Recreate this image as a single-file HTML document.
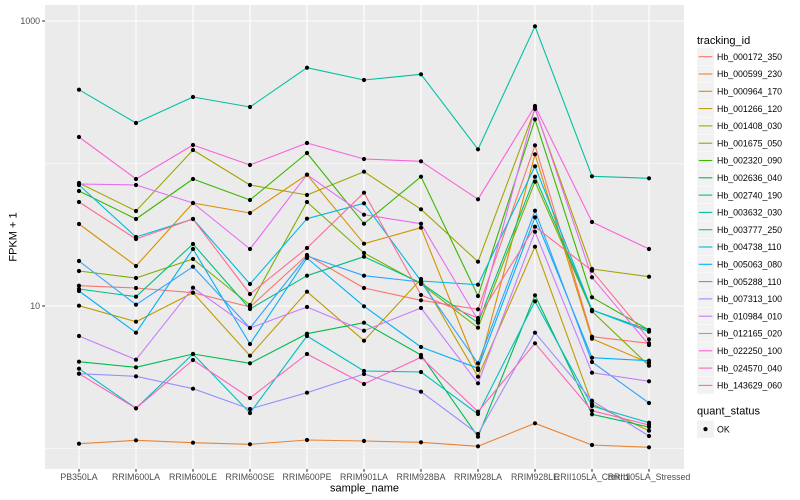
<!DOCTYPE html>
<html><head><meta charset="utf-8"><style>
html,body{margin:0;padding:0;background:#fff;}
svg{display:block;}
text{font-family:"Liberation Sans",Arial,sans-serif;}
</style></head><body>
<svg width="800" height="500" viewBox="0 0 800 500" xmlns="http://www.w3.org/2000/svg">
<defs>
<marker id="p" markerWidth="6" markerHeight="6" refX="3" refY="3" markerUnits="userSpaceOnUse"><circle cx="3" cy="3" r="2.1" fill="#000"/></marker>
<clipPath id="cp"><rect x="45" y="5" width="639" height="464"/></clipPath>
</defs>
<rect width="800" height="500" fill="#fff"/>
<rect x="45" y="5" width="639" height="464" fill="#EBEBEB"/>
<g stroke="#fff" stroke-width="0.55">
<line x1="45" x2="684" y1="163.5" y2="163.5"/>
<line x1="45" x2="684" y1="448.5" y2="448.5"/>
</g>
<g stroke="#fff" stroke-width="1.1">
<line x1="45" x2="684" y1="21" y2="21"/>
<line x1="45" x2="684" y1="306" y2="306"/>
<line x1="79" x2="79" y1="5" y2="469"/>
<line x1="136" x2="136" y1="5" y2="469"/>
<line x1="193" x2="193" y1="5" y2="469"/>
<line x1="250" x2="250" y1="5" y2="469"/>
<line x1="307" x2="307" y1="5" y2="469"/>
<line x1="364" x2="364" y1="5" y2="469"/>
<line x1="421" x2="421" y1="5" y2="469"/>
<line x1="478" x2="478" y1="5" y2="469"/>
<line x1="535" x2="535" y1="5" y2="469"/>
<line x1="592" x2="592" y1="5" y2="469"/>
<line x1="649" x2="649" y1="5" y2="469"/>
</g>
<g clip-path="url(#cp)" fill="none" stroke-width="1.1" stroke-linejoin="round">
<polyline stroke="#F8766D" points="79,285.7 136,288 193,292.7 250,307 307,255 364,288 421,300.3 478,309.3 535,145.3 592,336.7 649,343.3"/>
<polyline stroke="#EA8331" points="79,443.7 136,440.3 193,442.7 250,444.3 307,440 364,441 421,442.3 478,446.3 535,423.3 592,445 649,447.3"/>
<polyline stroke="#D89000" points="79,224 136,266 193,203 250,213 307,174.7 364,243.7 421,227.7 478,370 535,154.3 592,338.7 649,363"/>
<polyline stroke="#C09B00" points="79,305.7 136,321.7 193,292.7 250,355.7 307,291.7 364,340.7 421,279 478,376.7 535,246.7 592,404 649,430.7"/>
<polyline stroke="#A3A500" points="79,183 136,211 193,150 250,185 307,195 364,171.7 421,209.3 478,261.7 535,109 592,269 649,276.7"/>
<polyline stroke="#7CAE00" points="79,271 136,278 193,259 250,305 307,202 364,253 421,284 478,327.7 535,181.7 592,311.3 649,365.7"/>
<polyline stroke="#39B600" points="79,191 136,219 193,179 250,200 307,153 364,223.7 421,176.7 478,296 535,119.3 592,297.3 649,330"/>
<polyline stroke="#00BB4E" points="79,361.7 136,367.3 193,354 250,363.3 307,333.7 364,322.7 421,355 478,436.7 535,295.3 592,414.3 649,427"/>
<polyline stroke="#00BF7D" points="79,289 136,296.7 193,244 250,309 307,275.7 364,256.7 421,283 478,322.7 535,176.7 592,310 649,330"/>
<polyline stroke="#00C1A3" points="79,89.7 136,123 193,97 250,107 307,67.7 364,80 421,74.3 478,149.3 535,26.3 592,176.3 649,178.3"/>
<polyline stroke="#00BFC4" points="79,368.7 136,408.3 193,354 250,413 307,336 364,371 421,372 478,414 535,301.3 592,406 649,422.7"/>
<polyline stroke="#00BAE0" points="79,185 136,237 193,219 250,284 307,218.7 364,203.3 421,281 478,284.7 535,166.3 592,310 649,331.7"/>
<polyline stroke="#00B0F6" points="79,291 136,332.7 193,249 250,344 307,258 364,306.3 421,347 478,368.3 535,217.3 592,357.7 649,360.7"/>
<polyline stroke="#35A2FF" points="79,261 136,304.7 193,266.7 250,328 307,256 364,275.7 421,282 478,363.3 535,210.7 592,362 649,403"/>
<polyline stroke="#9590FF" points="79,373.7 136,376.3 193,388.7 250,409 307,392.7 364,374 421,391.7 478,434 535,332.7 592,400.7 649,436"/>
<polyline stroke="#C77CFF" points="79,336 136,359.7 193,287.7 250,328 307,307 364,330.7 421,308 478,383.3 535,231.7 592,372.7 649,381.3"/>
<polyline stroke="#E76BF3" points="79,184 136,185 193,203 250,249 307,174.7 364,214.7 421,223.7 478,320 535,108 592,277.3 649,345"/>
<polyline stroke="#FA62DB" points="79,137 136,179 193,145 250,165 307,143 364,159 421,161.3 478,199.3 535,106 592,222 649,249"/>
<polyline stroke="#FF62BC" points="79,373.7 136,408.3 193,360 250,398 307,354 364,384 421,357.3 478,411.7 535,343.3 592,410.7 649,425"/>
<polyline stroke="#FF6C90" points="79,202 136,239 193,219 250,294 307,248 364,192.7 421,295 478,318 535,226.7 592,270.7 649,339.3"/>
</g>
<g fill="none" stroke="none" marker-start="url(#p)" marker-mid="url(#p)" marker-end="url(#p)">
<polyline points="79,285.7 136,288 193,292.7 250,307 307,255 364,288 421,300.3 478,309.3 535,145.3 592,336.7 649,343.3"/>
<polyline points="79,443.7 136,440.3 193,442.7 250,444.3 307,440 364,441 421,442.3 478,446.3 535,423.3 592,445 649,447.3"/>
<polyline points="79,224 136,266 193,203 250,213 307,174.7 364,243.7 421,227.7 478,370 535,154.3 592,338.7 649,363"/>
<polyline points="79,305.7 136,321.7 193,292.7 250,355.7 307,291.7 364,340.7 421,279 478,376.7 535,246.7 592,404 649,430.7"/>
<polyline points="79,183 136,211 193,150 250,185 307,195 364,171.7 421,209.3 478,261.7 535,109 592,269 649,276.7"/>
<polyline points="79,271 136,278 193,259 250,305 307,202 364,253 421,284 478,327.7 535,181.7 592,311.3 649,365.7"/>
<polyline points="79,191 136,219 193,179 250,200 307,153 364,223.7 421,176.7 478,296 535,119.3 592,297.3 649,330"/>
<polyline points="79,361.7 136,367.3 193,354 250,363.3 307,333.7 364,322.7 421,355 478,436.7 535,295.3 592,414.3 649,427"/>
<polyline points="79,289 136,296.7 193,244 250,309 307,275.7 364,256.7 421,283 478,322.7 535,176.7 592,310 649,330"/>
<polyline points="79,89.7 136,123 193,97 250,107 307,67.7 364,80 421,74.3 478,149.3 535,26.3 592,176.3 649,178.3"/>
<polyline points="79,368.7 136,408.3 193,354 250,413 307,336 364,371 421,372 478,414 535,301.3 592,406 649,422.7"/>
<polyline points="79,185 136,237 193,219 250,284 307,218.7 364,203.3 421,281 478,284.7 535,166.3 592,310 649,331.7"/>
<polyline points="79,291 136,332.7 193,249 250,344 307,258 364,306.3 421,347 478,368.3 535,217.3 592,357.7 649,360.7"/>
<polyline points="79,261 136,304.7 193,266.7 250,328 307,256 364,275.7 421,282 478,363.3 535,210.7 592,362 649,403"/>
<polyline points="79,373.7 136,376.3 193,388.7 250,409 307,392.7 364,374 421,391.7 478,434 535,332.7 592,400.7 649,436"/>
<polyline points="79,336 136,359.7 193,287.7 250,328 307,307 364,330.7 421,308 478,383.3 535,231.7 592,372.7 649,381.3"/>
<polyline points="79,184 136,185 193,203 250,249 307,174.7 364,214.7 421,223.7 478,320 535,108 592,277.3 649,345"/>
<polyline points="79,137 136,179 193,145 250,165 307,143 364,159 421,161.3 478,199.3 535,106 592,222 649,249"/>
<polyline points="79,373.7 136,408.3 193,360 250,398 307,354 364,384 421,357.3 478,411.7 535,343.3 592,410.7 649,425"/>
<polyline points="79,202 136,239 193,219 250,294 307,248 364,192.7 421,295 478,318 535,226.7 592,270.7 649,339.3"/>
</g>
<!-- axes ticks -->
<g stroke="#333" stroke-width="1.1">
<line x1="42.2" x2="45" y1="21" y2="21"/>
<line x1="42.2" x2="45" y1="306" y2="306"/>
<line x1="79" x2="79" y1="469" y2="471.8"/>
<line x1="136" x2="136" y1="469" y2="471.8"/>
<line x1="193" x2="193" y1="469" y2="471.8"/>
<line x1="250" x2="250" y1="469" y2="471.8"/>
<line x1="307" x2="307" y1="469" y2="471.8"/>
<line x1="364" x2="364" y1="469" y2="471.8"/>
<line x1="421" x2="421" y1="469" y2="471.8"/>
<line x1="478" x2="478" y1="469" y2="471.8"/>
<line x1="535" x2="535" y1="469" y2="471.8"/>
<line x1="592" x2="592" y1="469" y2="471.8"/>
<line x1="649" x2="649" y1="469" y2="471.8"/>
</g>
<g font-size="8.8" fill="#4D4D4D">
<text x="40" y="24.2" text-anchor="end">1000</text>
<text x="40" y="309.2" text-anchor="end">10</text>
</g>
<g font-size="8.8" fill="#4D4D4D" text-anchor="middle">
<text x="79" y="480">PB350LA</text>
<text x="136" y="480">RRIM600LA</text>
<text x="193" y="480">RRIM600LE</text>
<text x="250" y="480">RRIM600SE</text>
<text x="307" y="480">RRIM600PE</text>
<text x="364" y="480">RRIM901LA</text>
<text x="421" y="480">RRIM928BA</text>
<text x="478" y="480">RRIM928LA</text>
<text x="535" y="480">RRIM928LE</text>
<text x="592" y="480">RRII105LA_Control</text>
<text x="649" y="480">RRII105LA_Stressed</text>
</g>
<text x="364.5" y="491.5" font-size="11" text-anchor="middle" fill="#000">sample_name</text>
<text transform="translate(16.5,237) rotate(-90)" font-size="11" text-anchor="middle" fill="#000">FPKM + 1</text>
<!-- legend -->
<text x="697" y="44" font-size="11" fill="#000">tracking_id</text>
<g fill="#F2F2F2">
<rect x="697" y="48.2" width="17" height="16.8"/>
<rect x="697" y="65.5" width="17" height="16.8"/>
<rect x="697" y="82.8" width="17" height="16.8"/>
<rect x="697" y="100.1" width="17" height="16.8"/>
<rect x="697" y="117.4" width="17" height="16.8"/>
<rect x="697" y="134.7" width="17" height="16.8"/>
<rect x="697" y="152" width="17" height="16.8"/>
<rect x="697" y="169.3" width="17" height="16.8"/>
<rect x="697" y="186.6" width="17" height="16.8"/>
<rect x="697" y="203.9" width="17" height="16.8"/>
<rect x="697" y="221.2" width="17" height="16.8"/>
<rect x="697" y="238.5" width="17" height="16.8"/>
<rect x="697" y="255.8" width="17" height="16.8"/>
<rect x="697" y="273.1" width="17" height="16.8"/>
<rect x="697" y="290.4" width="17" height="16.8"/>
<rect x="697" y="307.7" width="17" height="16.8"/>
<rect x="697" y="325" width="17" height="16.8"/>
<rect x="697" y="342.3" width="17" height="16.8"/>
<rect x="697" y="359.6" width="17" height="16.8"/>
<rect x="697" y="376.9" width="17" height="16.8"/>
<rect x="697" y="420.5" width="17" height="17.3"/>
</g>
<g stroke-width="1.1">
<line x1="698.7" x2="712.3" y1="56.7" y2="56.7" stroke="#F8766D"/>
<line x1="698.7" x2="712.3" y1="74" y2="74" stroke="#EA8331"/>
<line x1="698.7" x2="712.3" y1="91.3" y2="91.3" stroke="#D89000"/>
<line x1="698.7" x2="712.3" y1="108.6" y2="108.6" stroke="#C09B00"/>
<line x1="698.7" x2="712.3" y1="125.9" y2="125.9" stroke="#A3A500"/>
<line x1="698.7" x2="712.3" y1="143.2" y2="143.2" stroke="#7CAE00"/>
<line x1="698.7" x2="712.3" y1="160.5" y2="160.5" stroke="#39B600"/>
<line x1="698.7" x2="712.3" y1="177.8" y2="177.8" stroke="#00BB4E"/>
<line x1="698.7" x2="712.3" y1="195.1" y2="195.1" stroke="#00BF7D"/>
<line x1="698.7" x2="712.3" y1="212.4" y2="212.4" stroke="#00C1A3"/>
<line x1="698.7" x2="712.3" y1="229.7" y2="229.7" stroke="#00BFC4"/>
<line x1="698.7" x2="712.3" y1="247" y2="247" stroke="#00BAE0"/>
<line x1="698.7" x2="712.3" y1="264.3" y2="264.3" stroke="#00B0F6"/>
<line x1="698.7" x2="712.3" y1="281.6" y2="281.6" stroke="#35A2FF"/>
<line x1="698.7" x2="712.3" y1="298.9" y2="298.9" stroke="#9590FF"/>
<line x1="698.7" x2="712.3" y1="316.2" y2="316.2" stroke="#C77CFF"/>
<line x1="698.7" x2="712.3" y1="333.5" y2="333.5" stroke="#E76BF3"/>
<line x1="698.7" x2="712.3" y1="350.8" y2="350.8" stroke="#FA62DB"/>
<line x1="698.7" x2="712.3" y1="368.1" y2="368.1" stroke="#FF62BC"/>
<line x1="698.7" x2="712.3" y1="385.4" y2="385.4" stroke="#FF6C90"/>
</g>
<g font-size="8.8" fill="#000">
<text x="717" y="59.9">Hb_000172_350</text>
<text x="717" y="77.2">Hb_000599_230</text>
<text x="717" y="94.5">Hb_000964_170</text>
<text x="717" y="111.8">Hb_001266_120</text>
<text x="717" y="129.1">Hb_001408_030</text>
<text x="717" y="146.4">Hb_001675_050</text>
<text x="717" y="163.7">Hb_002320_090</text>
<text x="717" y="181">Hb_002636_040</text>
<text x="717" y="198.3">Hb_002740_190</text>
<text x="717" y="215.6">Hb_003632_030</text>
<text x="717" y="232.9">Hb_003777_250</text>
<text x="717" y="250.2">Hb_004738_110</text>
<text x="717" y="267.5">Hb_005063_080</text>
<text x="717" y="284.8">Hb_005288_110</text>
<text x="717" y="302.1">Hb_007313_100</text>
<text x="717" y="319.4">Hb_010984_010</text>
<text x="717" y="336.7">Hb_012165_020</text>
<text x="717" y="354">Hb_022250_100</text>
<text x="717" y="371.3">Hb_024570_040</text>
<text x="717" y="388.6">Hb_143629_060</text>
</g>
<text x="697" y="414.5" font-size="11" fill="#000">quant_status</text>
<circle cx="705.5" cy="429.1" r="2.1" fill="#000"/>
<text x="717" y="432.3" font-size="8.8" fill="#000">OK</text>
</svg>
</body></html>
